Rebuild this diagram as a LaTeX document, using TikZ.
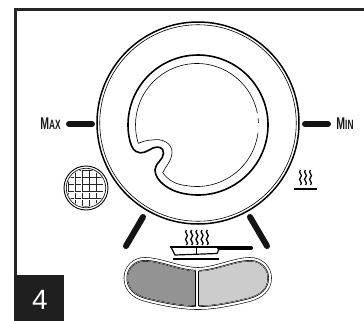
\documentclass[tikz,border=0pt]{standalone}
\usepackage{fontspec}
\setmainfont{Liberation Sans}
\newcommand{\btnpath}{(198,271.5) .. controls (215,271.5) and (235,261.5) .. (250,261.5) .. controls (260,261.5) and (267.5,269) .. (267.5,278) .. controls (267.5,288) and (260,294.5) .. (249,297.5) .. controls (235,301) and (215,305.5) .. (198,305.5) .. controls (180,305.5) and (160,301) .. (146,297.5) .. controls (135,294.5) and (128,288) .. (128,278) .. controls (128,269) and (135,261.5) .. (145,261.5) .. controls (160,261.5) and (180,271.5) .. (198,271.5) -- cycle}
\newcommand{\wave}[3]{\draw[wavy] (#1,#2) .. controls (#1-3.4,#2+#3*0.17) and (#1+3.4,#2+#3*0.33) .. (#1,#2+#3*0.5) .. controls (#1-3.4,#2+#3*0.67) and (#1+3.4,#2+#3*0.83) .. (#1,#2+#3);}
\tikzset{
  x=1bp,y=-1bp,
  thinline/.style={draw=black,line width=0.6bp,fill=none},
  thickline/.style={draw=black,line width=1.6bp,fill=none},
  tickmark/.style={draw=black!92,line width=6bp,line cap=round},
  wavy/.style={draw=black,line width=1.3bp},
  lbl/.style={inner sep=0pt,text=black!90},
}
\begin{document}
\begin{tikzpicture}
\useasboundingbox (0,0) rectangle (364,321);
\fill[white] (0,0) rectangle (364,321);
% frame
\draw[black!85,line width=2.6bp] (15.3,321) -- (15.3,9.7) -- (364,9.7);
% number
\fill[black!88] (14,275) rectangle (64,321);
\node[text=white,font=\fontsize{28}{28}\selectfont,inner sep=0pt] (num) at (40,300) {4};
% dial
\node[circle,draw=black,line width=1.5bp,minimum size=202bp,inner sep=0pt] (outer) at (198,123) {};
\node[circle,draw=black,line width=0.6bp,minimum size=196.5bp,inner sep=0pt] (outer2) at (198,123) {};
% inner shape, thick
\draw[thickline,line cap=round] (198,125) ++(99:70) arc (99:-189.7:70)
  .. controls (130.5,144) and (132,149) .. (136,151.5)
  .. controls (142,155) and (147,151) .. (153,148)
  .. controls (158,146) and (163.5,147) .. (163.5,153)
  .. controls (163.5,160) and (155,163) .. (155,170)
  .. controls (155,181) and (170,192) .. (187.05,194.1);
% inner shape, thin
\draw[thinline] (197,125) ++(99:61.5) arc (99:7.5:61.5);
\draw[thinline] (197,125) ++(-2:61.5) arc (-2:-6.5:61.5);
\draw[thinline] (197,125) ++(-11:61.5) arc (-11:-197.3:61.5)
  .. controls (143,141.5) and (147,140) .. (152,140)
  .. controls (162,138) and (172,143) .. (172,152)
  .. controls (172,161) and (165,167) .. (162.7,172.7)
  .. controls (168,180) and (176,185) .. (187.4,185.6);
% ticks
\draw[tickmark] (69,124) -- (92,124);
\draw[tickmark] (305,124) -- (328,124);
\draw[tickmark] (143,217) -- (126,246);
\draw[tickmark] (250,217) -- (267,246);
% labels
\node[lbl,anchor=center,xscale=.62,font=\fontsize{17}{17}\selectfont\bfseries] (mx) at (50.5,123.3) {M{\fontsize{13.5}{13.5}\selectfont AX}};
\node[lbl,anchor=center,xscale=.62,font=\fontsize{17}{17}\selectfont\bfseries] (mn) at (345,123.3) {M{\fontsize{13.5}{13.5}\selectfont IN}};
% waffle
\begin{scope}
\clip (86,188) circle[radius=18.6];
\foreach \i in {-3,...,3}{
  \foreach \j in {-3,...,3}{
    \draw[black!85,line width=.8bp] (86+\i*7.2-3.6,188+\j*7.2-2.6) -- (86+\i*7.2-3.6,188+\j*7.2+3.6) -- (86+\i*7.2+2.6,188+\j*7.2+3.6);
  }
}
\end{scope}
\node[circle,draw=black,line width=.9bp,minimum size=44bp,inner sep=0pt] (waf) at (86,188) {};
\node[circle,draw=black,line width=0.6bp,minimum size=39.5bp,inner sep=0pt] (waf2) at (86,188) {};
% heat symbol
\foreach \x in {300.5,305.5,310.5}{\wave{\x}{170}{15}}
\draw[black,line width=2bp] (294,189) -- (317,189);
% pan symbol
\foreach \x in {186.5,191.7,196.9,202.1,207.3}{\wave{\x}{230}{15}}
\draw[black,line width=1.8bp] (170,246.8) -- (220,246.8);
\draw[black,line width=4bp,line cap=round] (219,248) -- (251,248);
\draw[black,line width=1.2bp] (171,247) -- (175,255) -- (217,253.5) -- (220,247);
\draw[black,line width=.6bp] (196,247) -- (196,254);
\draw[black,line width=2.4bp] (173,258.8) -- (219,258.8);
% button
\draw[black,line width=8.6bp,line join=round] \btnpath;
\draw[white,line width=7.4bp,line join=round] \btnpath;
\draw[black,line width=3bp,line join=round] \btnpath;
\draw[white,line width=1.6bp,line join=round] \btnpath;
\draw[black,line width=.8bp,line join=round] \btnpath;
\begin{scope}
\clip \btnpath;
\fill[gray!85] (120,250) rectangle (197,315);
\fill[gray!40] (197,250) rectangle (280,315);
\end{scope}
\draw[white,line width=3bp] (197,269) -- (197,307.5);
\draw[black,line width=.9bp] (195.2,270.5) -- (195.2,306);
\draw[black,line width=.9bp] (198.8,270.5) -- (198.8,306);
\end{tikzpicture}
\end{document}
